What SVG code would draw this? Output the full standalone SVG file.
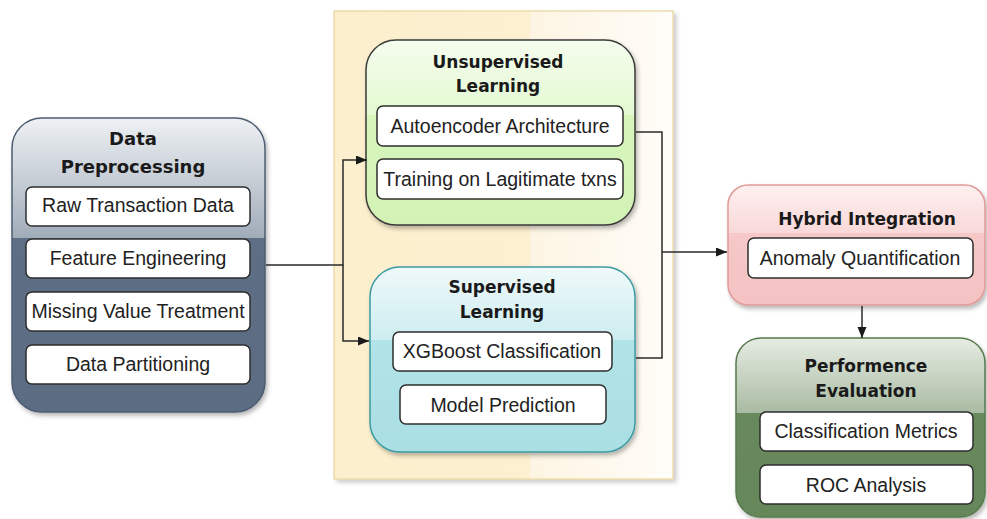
<svg xmlns="http://www.w3.org/2000/svg" width="987" height="519" viewBox="0 0 987 519">
  <defs>
    <filter id="sh" x="-10%" y="-10%" width="125%" height="125%">
      <feDropShadow dx="2" dy="3" stdDeviation="2" flood-color="#000" flood-opacity="0.28"/>
    </filter>
    <filter id="shc" x="-5%" y="-5%" width="115%" height="115%">
      <feDropShadow dx="3" dy="3" stdDeviation="2" flood-color="#000" flood-opacity="0.2"/>
    </filter>
    <linearGradient id="gCont" x1="0" y1="0" x2="1" y2="0">
      <stop offset="0" stop-color="#fcefcd"/>
      <stop offset="0.578" stop-color="#fdf0d1"/>
      <stop offset="0.578" stop-color="#fdf4e2"/>
      <stop offset="1" stop-color="#fffdf9"/>
    </linearGradient>
    <linearGradient id="gDP" x1="0" y1="0" x2="0" y2="1">
      <stop offset="0" stop-color="#eef1f4"/>
      <stop offset="0.408" stop-color="#a1acb9"/>
      <stop offset="0.408" stop-color="#5d6e85"/>
      <stop offset="1" stop-color="#5b6c83"/>
    </linearGradient>
    <linearGradient id="gUn" x1="0" y1="0" x2="0" y2="1">
      <stop offset="0" stop-color="#f5fdee"/>
      <stop offset="0.405" stop-color="#e3f9d1"/>
      <stop offset="0.405" stop-color="#d7f5bc"/>
      <stop offset="1" stop-color="#d3f3b5"/>
    </linearGradient>
    <linearGradient id="gSu" x1="0" y1="0" x2="0" y2="1">
      <stop offset="0" stop-color="#eff9fa"/>
      <stop offset="0.395" stop-color="#cdedf0"/>
      <stop offset="0.395" stop-color="#b2e3e7"/>
      <stop offset="1" stop-color="#aadfe3"/>
    </linearGradient>
    <linearGradient id="gHy" x1="0" y1="0" x2="0" y2="1">
      <stop offset="0" stop-color="#fdf0f0"/>
      <stop offset="0.4" stop-color="#f9d8d8"/>
      <stop offset="0.4" stop-color="#f6c8c8"/>
      <stop offset="1" stop-color="#f4c2c2"/>
    </linearGradient>
    <linearGradient id="gPe" x1="0" y1="0" x2="0" y2="1">
      <stop offset="0" stop-color="#e6ece3"/>
      <stop offset="0.42" stop-color="#a9bba2"/>
      <stop offset="0.42" stop-color="#68895c"/>
      <stop offset="1" stop-color="#65875a"/>
    </linearGradient>
    <marker id="arr" markerUnits="userSpaceOnUse" markerWidth="12" markerHeight="10" refX="11" refY="4.5" orient="auto">
      <path d="M0,0 L11,4.5 L0,9 Z" fill="#1a1a1a"/>
    </marker>
    <style>
      .inner { fill: #ffffff; stroke: #2e2e2e; stroke-width: 1.5; }
      .txt { font-family: "Liberation Sans", Arial, sans-serif; font-size: 19.5px; fill: #222; text-anchor: middle; }
      .ttl { font-family: "DejaVu Sans", Verdana, sans-serif; font-weight: bold; font-size: 17px; fill: #1a1a1a; text-anchor: middle; }
      .conn { fill: none; stroke: #2a2a2a; stroke-width: 1.5; }
    </style>
  </defs>

  <g id="container">
    <rect x="334" y="11" width="339" height="468" fill="url(#gCont)" stroke="#ead59c" stroke-width="1.2" filter="url(#shc)"/>
  </g>

  <g id="data-preprocessing">
    <rect x="12" y="118" width="253" height="294" rx="30" fill="url(#gDP)" stroke="#4d5d71" stroke-width="1.5" filter="url(#sh)"/>
    <text class="ttl" x="133" y="145" style="font-size:18px">Data</text>
    <text class="ttl" x="133" y="173" style="font-size:18px">Preprocessing</text>
    <rect class="inner" x="26" y="187" width="224" height="39" rx="6"/>
    <text class="txt" x="138" y="212">Raw Transaction Data</text>
    <rect class="inner" x="26" y="239" width="224" height="39" rx="6"/>
    <text class="txt" x="138" y="265">Feature Engineering</text>
    <rect class="inner" x="26" y="292" width="224" height="39" rx="6"/>
    <text class="txt" x="138" y="318">Missing Value Treatment</text>
    <rect class="inner" x="26" y="345" width="224" height="39" rx="6"/>
    <text class="txt" x="138" y="371">Data Partitioning</text>
  </g>

  <g id="unsupervised-learning">
    <rect x="366" y="40" width="269" height="185" rx="30" fill="url(#gUn)" stroke="#3a3a3a" stroke-width="1.5" filter="url(#sh)"/>
    <text class="ttl" x="498" y="68">Unsupervised</text>
    <text class="ttl" x="498" y="92">Learning</text>
    <rect class="inner" x="377" y="106" width="246" height="40" rx="6"/>
    <text class="txt" x="500" y="133">Autoencoder Architecture</text>
    <rect class="inner" x="377" y="159" width="246" height="40" rx="6"/>
    <text class="txt" x="500" y="186">Training on Lagitimate txns</text>
  </g>

  <g id="supervised-learning">
    <rect x="370" y="267" width="265" height="185" rx="30" fill="url(#gSu)" stroke="#3c9aa2" stroke-width="1.5" filter="url(#sh)"/>
    <text class="ttl" x="502" y="293">Supervised</text>
    <text class="ttl" x="502" y="318">Learning</text>
    <rect class="inner" x="393" y="332" width="219" height="39" rx="6"/>
    <text class="txt" x="502" y="358">XGBoost Classification</text>
    <rect class="inner" x="400" y="385" width="206" height="39" rx="6"/>
    <text class="txt" x="503" y="412">Model Prediction</text>
  </g>

  <g id="hybrid-integration">
    <rect x="728" y="185" width="257" height="120" rx="20" fill="url(#gHy)" stroke="#e09a9a" stroke-width="1.5" filter="url(#sh)"/>
    <text class="ttl" x="867" y="225">Hybrid Integration</text>
    <rect class="inner" x="748" y="238" width="225" height="40" rx="6"/>
    <text class="txt" x="860" y="265">Anomaly Quantification</text>
  </g>

  <g id="performance-evaluation">
    <rect x="736" y="338" width="249" height="179" rx="25" fill="url(#gPe)" stroke="#587a4e" stroke-width="1.5" filter="url(#sh)"/>
    <text class="ttl" x="866" y="372">Performence</text>
    <text class="ttl" x="866" y="397">Evaluation</text>
    <rect class="inner" x="760" y="412" width="213" height="39" rx="6"/>
    <text class="txt" x="866" y="438">Classification Metrics</text>
    <rect class="inner" x="760" y="465" width="213" height="39" rx="6"/>
    <text class="txt" x="866" y="492">ROC Analysis</text>
  </g>

  <g id="connectors">
    <path class="conn" d="M266,265 H343 V160 H367" marker-end="url(#arr)"/>
    <path class="conn" d="M343,265 V341 H369" marker-end="url(#arr)"/>
    <path class="conn" d="M636,132 H662 V358 H636"/>
    <path class="conn" d="M662,252 H727" marker-end="url(#arr)"/>
    <path class="conn" d="M862,306 V338" marker-end="url(#arr)"/>
  </g>
</svg>
